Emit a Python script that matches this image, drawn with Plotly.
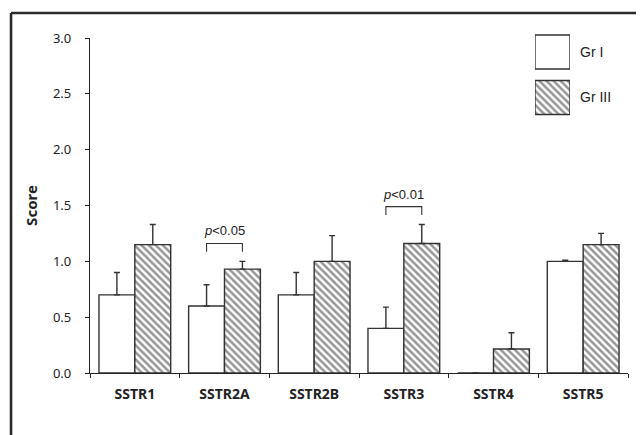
import plotly.graph_objects as go

# ---- data ----
categories = ["SSTR1", "SSTR2A", "SSTR2B", "SSTR3", "SSTR4", "SSTR5"]
groups = ["Gr I", "Gr III"]
gr1_mean = [0.70, 0.60, 0.70, 0.40, 0.00, 1.00]
gr1_err = [0.20, 0.19, 0.20, 0.19, 0.00, 0.01]
gr3_mean = [1.15, 0.93, 1.00, 1.16, 0.215, 1.15]
gr3_err = [0.18, 0.07, 0.23, 0.17, 0.145, 0.10]
sig_pairs = ["SSTR2A", "SSTR3"]
sig_labels = ["<i>p</i>&lt;0.05", "<i>p</i>&lt;0.01"]
sig_levels = [1.16, 1.49]

EDGE = "#333333"
HATCH = "#2e2e2e"
INK = "#222222"

fig = go.Figure()

err_style = dict(type="data", symmetric=False, color=EDGE, thickness=1.4, width=3)
hatch = dict(fgcolor=HATCH, bgcolor="white", size=5, solidity=0.5)

fig.add_trace(go.Bar(
    x=categories, y=gr1_mean, name=groups[0],
    marker=dict(color="white", line=dict(color=EDGE, width=1.4)),
    error_y=dict(array=gr1_err, arrayminus=[0] * len(gr1_err), **err_style),
    showlegend=False,
))
fig.add_trace(go.Bar(
    x=categories, y=gr3_mean, name=groups[1],
    marker=dict(color="white", line=dict(color=EDGE, width=1.4),
                pattern=dict(shape="\\", **hatch)),
    error_y=dict(array=gr3_err, arrayminus=[0] * len(gr3_err), **err_style),
    showlegend=False,
))

# legend boxes drawn on an auxiliary axis
fig.add_trace(go.Bar(
    x=[1, 1], y=[1, 0], orientation="h", xaxis="x2", yaxis="y2",
    width=0.747, cliponaxis=False, showlegend=False, hoverinfo="skip",
    marker=dict(color="white", line=dict(color=EDGE, width=1.4),
                pattern=dict(shape=["", "\\"], **hatch)),
))

shapes = []
annotations = []
# outer frame (only the left and top edges are visible)
shapes.append(dict(type="line", xref="paper", yref="paper",
                   x0=-0.1468, x1=-0.1468, y0=-0.5, y1=1.0619,
                   line=dict(color="#2b2b2b", width=2.6)))
shapes.append(dict(type="line", xref="paper", yref="paper",
                   x0=-0.1468, x1=1.5, y0=1.0619, y1=1.0619,
                   line=dict(color="#2b2b2b", width=2.6)))

# significance brackets
for cat, lab, lev in zip(sig_pairs, sig_labels, sig_levels):
    i = categories.index(cat)
    xa, xb = i - 0.2, i + 0.2
    shapes.append(dict(type="path", xref="x", yref="y",
                       path=f"M {xa} {lev - 0.075} L {xa} {lev} L {xb} {lev} L {xb} {lev - 0.075}",
                       line=dict(color=EDGE, width=1.1)))
    annotations.append(dict(x=i, y=lev, xref="x", yref="y", text=lab,
                            showarrow=False, yanchor="bottom", yshift=3,
                            font=dict(family="Liberation Sans", size=13, color=INK)))

fig.update_layout(
    width=636, height=427,
    margin=dict(l=82, r=16, t=26, b=62),
    paper_bgcolor="white", plot_bgcolor="white",
    barmode="group", bargap=0.2, bargroupgap=0,
    shapes=shapes, annotations=annotations,
    xaxis=dict(range=[-0.5, 5.5], showline=True, linecolor=INK, linewidth=1.2,
               ticks="outside", tickson="boundaries", ticklen=4, tickcolor=INK,
               showgrid=False, zeroline=False, ticklabelstandoff=8,
               tickfont=dict(family="Noto Sans", size=14, color=INK, weight="bold")),
    yaxis=dict(domain=[0, 0.9882], range=[0, 3], dtick=0.5, tickformat=".1f",
               showline=True, linecolor=INK, linewidth=1.2, ticks="outside",
               ticklen=4, tickcolor=INK, showgrid=False, zeroline=False,
               ticklabelstandoff=11,
               tickfont=dict(family="Noto Sans", size=13, color=INK),
               title=dict(text="<b>Score</b>", standoff=11,
                          font=dict(family="Noto Sans", size=15, color=INK))),
    xaxis2=dict(domain=[0.8271, 0.8922], range=[0, 1], anchor="y2",
                showline=False, showgrid=False, zeroline=False,
                showticklabels=False, ticks=""),
    yaxis2=dict(domain=[0.73156, 1.0], range=[-0.6044, 1.3956], anchor="x2",
                side="right", tickvals=[1, 0], ticktext=groups,
                showline=False, showgrid=False, zeroline=False, ticks="",
                ticklabelstandoff=9,
                tickfont=dict(family="Liberation Sans", size=14, color=INK)),
)

fig.write_html("out.html")
